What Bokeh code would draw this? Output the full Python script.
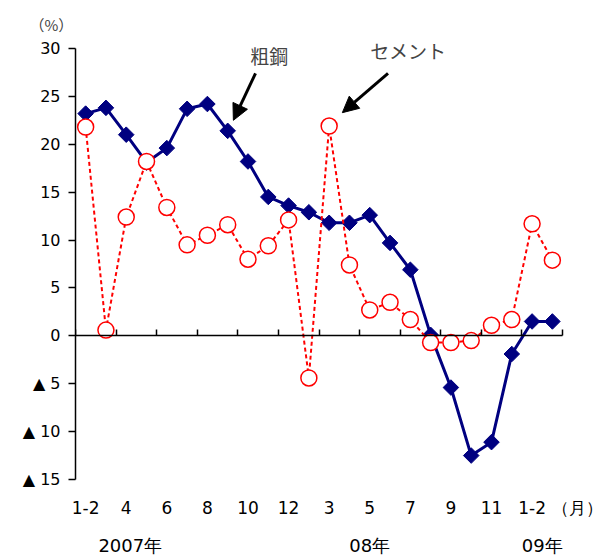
import math
from bokeh.plotting import figure
from bokeh.models import (Range1d, LinearAxis, FixedTicker, Label, Arrow,
                          NormalHead, ColumnDataSource)
from bokeh.embed import file_html
from bokeh.resources import INLINE

# months Jan-Feb 2007 .. Mar 2009 (Jan and Feb combined)
months = ["1-2", "3", "4", "5", "6", "7", "8", "9", "10", "11", "12",
          "1-2", "3", "4", "5", "6", "7", "8", "9", "10", "11", "12",
          "1-2", "3"]
# year-on-year change, %
steel = [23.2, 23.8, 21.0, 18.1, 19.6, 23.7, 24.2, 21.4, 18.2, 14.5, 13.6,
         12.9, 11.8, 11.8, 12.6, 9.7, 6.9, 0.1, -5.4, -12.5, -11.1, -1.9,
         1.5, 1.5]
cement = [21.8, 0.6, 12.4, 18.2, 13.4, 9.5, 10.5, 11.6, 8.0, 9.4, 12.1,
          -4.4, 21.9, 7.4, 2.7, 3.5, 1.7, -0.7, -0.7, -0.5, 1.1, 1.7,
          11.7, 7.9]
y_ticks = [-15, -10, -5, 0, 5, 10, 15, 20, 25, 30]
y_tick_labels = ["▲ 15", "▲ 10", "▲ 5", "0", "5", "10", "15", "20", "25", "30"]
years = ["2007年", "08年", "09年"]
year_pos = [2.7, 14.5, 23.0]
month_unit = "（月）"
month_unit_pos = 25.3
pct_unit = "（%）"

FONT = "DejaVu Sans"
JFONT = "Noto Sans CJK JP"

n = len(months)
xc = [i + 0.5 for i in range(n)]
src = ColumnDataSource(dict(x=xc, steel=steel, cement=cement))

p = figure(width=602, height=558, x_range=Range1d(0, 25.97),
           y_range=Range1d(-15, 31.25), x_axis_type=None,
           output_backend="svg", toolbar_location=None,
           min_border_left=75, min_border_right=0,
           min_border_top=36, min_border_bottom=78)
p.grid.visible = False
p.outline_line_color = None
p.background_fill_color = "white"
p.border_fill_color = "white"

# unit of the value axis, top left
p.title.text = pct_unit
p.title.align = "left"
p.title.offset = -46
p.title.standoff = 4
p.title.text_font = JFONT
p.title.text_font_size = "15px"
p.title.text_font_style = "normal"

# value axis
ya = p.yaxis[0]
ya.ticker = FixedTicker(ticks=y_ticks)
ya.bounds = (-15, 30)
ya.major_label_overrides = {t: s for t, s in zip(y_ticks, y_tick_labels)}
ya.minor_tick_line_color = None
ya.major_tick_in = 0
ya.major_tick_out = 7
ya.major_label_standoff = 8
ya.axis_line_width = 1.5
ya.major_tick_line_width = 1.5
ya.axis_line_color = "black"
ya.major_tick_line_color = "black"
ya.major_label_text_font = FONT
ya.major_label_text_font_size = "16px"
ya.major_label_text_color = "black"

# zero line with ticks every two months
zero_axis = LinearAxis(ticker=FixedTicker(ticks=list(range(0, n + 1, 2))),
                       fixed_location=0, bounds=(0, n),
                       major_tick_in=6, major_tick_out=0,
                       minor_tick_line_color=None, major_label_standoff=0,
                       axis_line_width=1.5, major_tick_line_width=1.5,
                       major_label_text_font_size="0px",
                       major_label_text_color=None)
p.add_layout(zero_axis, "below")

# month labels along the bottom
month_labels = {xc[i]: months[i] for i in range(0, n, 2)}
month_labels[month_unit_pos] = month_unit
lab_axis = LinearAxis(ticker=FixedTicker(ticks=xc[::2] + [month_unit_pos]),
                      major_label_overrides=month_labels,
                      axis_line_color=None, major_tick_line_color=None,
                      minor_tick_line_color=None, major_label_standoff=12,
                      major_label_text_font=FONT,
                      major_label_text_font_size="17px",
                      major_label_text_color="black")
p.add_layout(lab_axis, "below")

# year labels
year_axis = LinearAxis(ticker=FixedTicker(ticks=year_pos),
                       major_label_overrides=dict(zip(year_pos, years)),
                       axis_line_color=None, major_tick_line_color=None,
                       minor_tick_line_color=None, major_label_standoff=8,
                       major_label_text_font=FONT,
                       major_label_text_font_size="18px",
                       major_label_text_color="black")
p.add_layout(year_axis, "below")

# series
p.line("x", "steel", source=src, line_color="#000080", line_width=3)
p.scatter("x", "steel", source=src, marker="square", angle=math.pi / 4,
          size=11, fill_color="#000080", line_color="#000080")
p.line("x", "cement", source=src, line_color="#FF0000", line_width=2,
       line_dash="4 3")
p.scatter("x", "cement", source=src, marker="circle", size=16,
          fill_color="white", line_color="#FF0000", line_width=1.5)

# series annotations
p.add_layout(Label(x=9.55, y=29.3, text="粗鋼", text_font=JFONT,
                   text_font_size="19px", text_align="center",
                   text_baseline="middle"))
p.add_layout(Arrow(x_start=8.87, y_start=27.4, x_end=7.78, y_end=22.5,
                   line_width=3, line_color="black",
                   end=NormalHead(size=16, fill_color="black",
                                  line_color="black")))
p.add_layout(Label(x=16.4, y=29.8, text="セメント", text_font=JFONT,
                   text_font_size="19px", text_align="center",
                   text_baseline="middle"))
p.add_layout(Arrow(x_start=15.4, y_start=27.4, x_end=13.15, y_end=23.3,
                   line_width=3, line_color="black",
                   end=NormalHead(size=16, fill_color="black",
                                  line_color="black")))

open("out.html", "w").write(file_html(p, INLINE))
